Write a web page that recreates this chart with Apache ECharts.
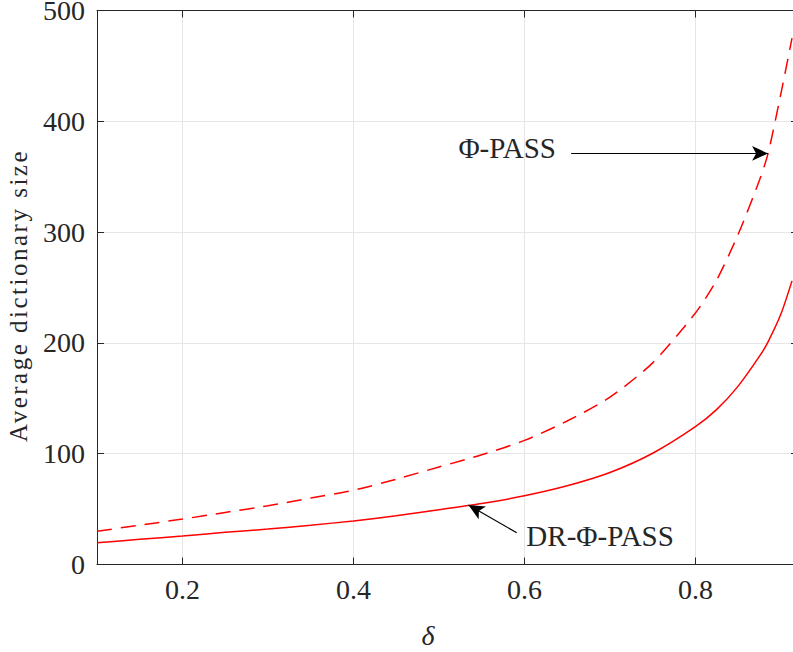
<!DOCTYPE html>
<html>
<head>
<meta charset="utf-8">
<script src="https://cdn.jsdelivr.net/npm/echarts@6/dist/echarts.min.js"></script>
<style>
html,body{margin:0;padding:0;background:#fff;overflow:hidden;}
#chart{width:800px;height:652px;}
</style>
</head>
<body>
<div id="chart"></div>
<script>
// delta values (x)
const deltaValues = [0.10, 0.15, 0.20, 0.25, 0.30, 0.35, 0.40, 0.45, 0.50, 0.55, 0.60, 0.65, 0.70, 0.75, 0.80, 0.825, 0.85, 0.875, 0.885, 0.90, 0.913];
// Φ-PASS (dashed)
const phiPass = [30, 35.5, 41, 47, 53, 60, 67, 77, 88, 99, 112, 129.5, 151, 182, 227, 257, 298, 347, 371, 425, 475];
// DR-Φ-PASS (solid)
const drPhiPass = [19.7, 22.7, 25.7, 29, 32, 35.5, 39.3, 44, 49.5, 55, 62, 71, 83, 100.4, 124.4, 140, 161, 188, 201, 226, 256];
// axis ticks
const xTicks = [0.2, 0.4, 0.6, 0.8];
const xMin = 0.1, xMax = 0.92;
const yMin = 0, yMax = 500, yStep = 100;
// annotations
const phiArrow = [[0.6546, 371], [0.885, 371]];
const drArrow = [[0.591, 28.7], [0.5345, 53.7]];
const phiText = {label: 'Φ-PASS', pos: [0.5798, 376]};
const drText = {label: 'DR-Φ-PASS', pos: [0.6885, 25.7]};
const yName = 'Average dictionary size';

const FONT = 'Liberation Serif';
const TXT = '#262626';

const pair = (xs, ys) => xs.map((x, i) => [x, ys[i]]);

const textPoint = (t) => ({
  coord: t.pos, symbol: 'circle', symbolSize: 0,
  label: {show: true, position: 'inside', formatter: t.label, fontFamily: FONT, fontSize: 29, color: TXT}
});

const chart = echarts.init(document.getElementById('chart'), null, {renderer: 'svg'});
const axisCommon = {
  axisLine: {show: true, onZero: false, lineStyle: {color: TXT, width: 1}},
  axisTick: {show: true, inside: true, length: 7, lineStyle: {color: TXT}},
};
chart.setOption({
  animation: false,
  backgroundColor: '#fff',
  grid: {left: 97, right: 2, top: 10.5, bottom: 87.5, containLabel: false, outerBoundsMode: 'none'},
  xAxis: [
    Object.assign({}, axisCommon, {
      type: 'value', min: xMin, max: xMax, position: 'bottom',
      axisTick: {show: true, inside: true, length: 7, lineStyle: {color: TXT}, customValues: xTicks},
      axisLabel: {customValues: xTicks, color: TXT, fontFamily: FONT, fontSize: 28, margin: 11,
        formatter: v => v.toFixed(1)},
      splitLine: {show: true, lineStyle: {color: '#e6e6e6', width: 1}},
      name: 'δ', nameLocation: 'middle', nameGap: 57,
      nameTextStyle: {fontFamily: FONT, fontStyle: 'italic', fontSize: 28, color: TXT, padding: [0, 39, 0, 0]}
    }),
    Object.assign({}, axisCommon, {
      type: 'value', min: xMin, max: xMax, position: 'top',
      axisTick: {show: true, inside: true, length: 7, lineStyle: {color: TXT}, customValues: xTicks},
      axisLabel: {show: false}, splitLine: {show: false}
    })
  ],
  yAxis: [
    Object.assign({}, axisCommon, {
      type: 'value', min: yMin, max: yMax, interval: yStep, position: 'left',
      axisLabel: {color: TXT, fontFamily: FONT, fontSize: 28, lineHeight: 20, margin: 12},
      splitLine: {show: true, lineStyle: {color: '#e6e6e6', width: 1}},
      name: yName, nameLocation: 'middle', nameGap: 66,
      nameTextStyle: {fontFamily: FONT, fontSize: 25, color: TXT, padding: [0, 16, 0, 0]}
    }),
    Object.assign({}, axisCommon, {
      type: 'value', min: yMin, max: yMax, interval: yStep, position: 'right',
      axisLabel: {show: false}, splitLine: {show: false}
    })
  ],
  series: [
    {
      name: 'Φ-PASS', type: 'line', data: pair(deltaValues, phiPass), smooth: 0.25,
      showSymbol: false, symbol: 'none',
      lineStyle: {color: '#ff0000', width: 1.5, type: [15, 9]},
      markLine: {
        silent: true, symbol: ['none', 'arrow'], symbolSize: [11, 16],
        lineStyle: {color: '#000', width: 1.2, type: 'solid'}, label: {show: false},
        data: [
          [{coord: phiArrow[0]}, {coord: phiArrow[1]}],
          [{coord: drArrow[0]}, {coord: drArrow[1]}]
        ]
      },
      markPoint: {silent: true, data: [textPoint(phiText), textPoint(drText)]}
    },
    {
      name: 'DR-Φ-PASS', type: 'line', data: pair(deltaValues, drPhiPass), smooth: 0.25,
      showSymbol: false, symbol: 'none',
      lineStyle: {color: '#ff0000', width: 1.5, type: 'solid'}
    }
  ]
});
function spaceYName() {
  document.querySelectorAll('#chart text').forEach(t => {
    if (t.textContent === yName) {
      t.setAttribute('letter-spacing', '2.5px');
      t.style.fontFamily = '"' + FONT + '", serif';
    }
  });
}
spaceYName();
chart.on('rendered', spaceYName);
</script>
</body>
</html>
